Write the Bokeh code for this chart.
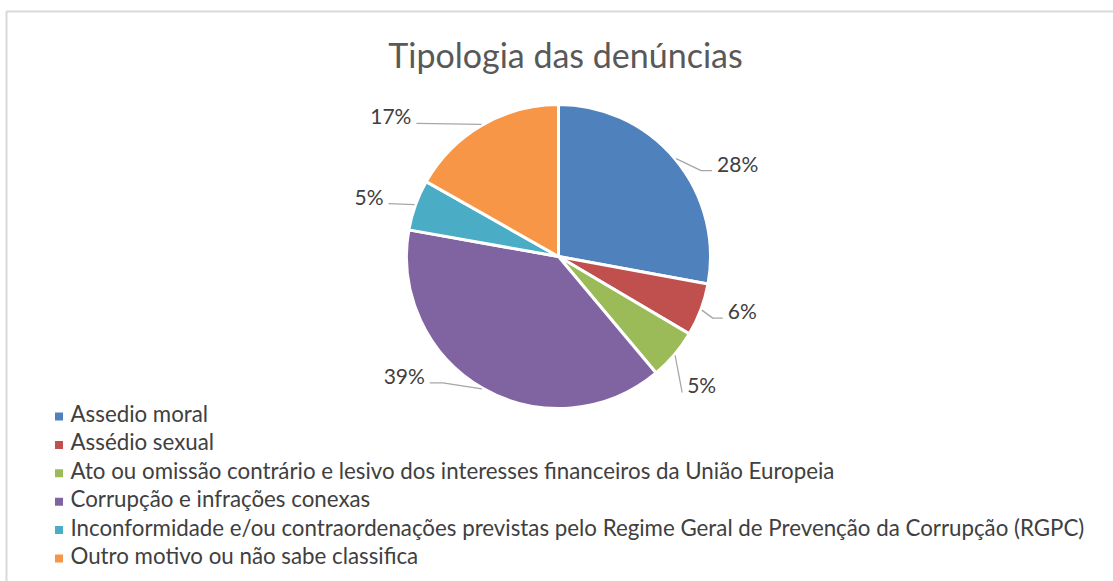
import math
from bokeh.plotting import figure
from bokeh.models import Range1d, ColumnDataSource
from bokeh.core.properties import value
from bokeh.embed import file_html
from bokeh.resources import INLINE

# ---- data ----
title = "Tipologia das denúncias"
categories = [
    "Assedio moral",
    "Assédio sexual",
    "Ato ou omissão contrário e lesivo dos interesses financeiros da União Europeia",
    "Corrupção e infrações conexas",
    "Inconformidade e/ou contraordenações previstas pelo Regime Geral de Prevenção da Corrupção (RGPC)",
    "Outro motivo ou não sabe classifica",
]
shares = [27.9, 5.6, 5.4, 38.9, 5.4, 16.8]
colors = ["#4F81BD", "#C0504D", "#9BBB59", "#8064A2", "#4BACC6", "#F79646"]

# ---- layout (screen pixels) ----
W, H = 1113, 581
CX, CY, R = 558, 256, 152
FONT = "Lato"

def Y(ys):
    return H - ys

p = figure(width=W, height=H, output_backend="svg", toolbar_location=None,
           x_range=Range1d(0, W), y_range=Range1d(0, H),
           min_border=0, outline_line_color=None, background_fill_color="white",
           border_fill_color="white")
p.axis.visible = False
p.grid.visible = False

# chart border
p.quad(left=[6], right=[W + 10], top=[Y(11)], bottom=[Y(H + 10)],
       fill_color=None, line_color="#D9D9D9", line_width=2)

# title
p.text(x=[565], y=[Y(54)], text=[title], text_align="center",
       text_baseline="middle", text_font=value(FONT),
       text_font_size="34px", text_color="#595959")

# pie
total = sum(shares)
cum = [0.0]
for v in shares:
    cum.append(cum[-1] + v / total)
starts = [math.pi / 2 - 2 * math.pi * c for c in cum[:-1]]
ends = [math.pi / 2 - 2 * math.pi * c for c in cum[1:]]
src = ColumnDataSource(dict(start=starts, end=ends, color=colors))
p.wedge(x=CX, y=Y(CY), radius=R, radius_units="screen",
        start_angle="start", end_angle="end", direction="clock",
        fill_color="color", line_color="white", line_width=3, source=src)

# data labels with leader lines
labels = [f"{round(v / total * 100)}%" for v in shares]
lab_off = [(41, 13), (26, 9), (12, 38), (-57, -5), (-31, 0), (-70, 0)]
elbow_len = [11, 10, 0, 13, 0, 0]
lx, ly, la, xs, ys = [], [], [], [], []
for i in range(len(shares)):
    mid = (cum[i] + cum[i + 1]) / 2 * 2 * math.pi  # clockwise from top
    ex = CX + (R + 1) * math.sin(mid)
    ey = CY - (R + 1) * math.cos(mid)
    dx, dy = lab_off[i]
    ax, ay = ex + dx, ey + dy
    right = dx > 0
    lx.append(ax)
    ly.append(Y(ay - 8.5))
    la.append("left" if right else "right")
    endx = ax - 5 if right else ax + 5
    endy = ay - 1
    if elbow_len[i]:
        elx = endx - elbow_len[i] if right else endx + elbow_len[i]
        pts = [(ex, ey), (elx, endy), (endx, endy)]
    else:
        pts = [(ex, ey), (endx, endy)]
    xs.append([q[0] for q in pts])
    ys.append([Y(q[1]) for q in pts])

p.multi_line(xs=xs, ys=ys, line_color="#A6A6A6", line_width=1.3)
p.text(x=lx, y=ly, text=labels, text_align=la, text_baseline="middle",
       text_font=value(FONT), text_font_size="21px", text_color="#404040")

# legend
leg_y = [413 + 28.4 * i for i in range(len(categories))]
p.rect(x=[58.5] * len(categories), y=[Y(v + 3) for v in leg_y], width=8, height=8,
       width_units="screen", height_units="screen", fill_color=colors, line_color=None)
p.text(x=[70] * len(categories), y=[Y(v) for v in leg_y], text=categories,
       text_align="left", text_baseline="middle", text_font=value(FONT),
       text_font_size="22.3px", text_color="#404040")

open("out.html", "w").write(file_html(p, INLINE))
